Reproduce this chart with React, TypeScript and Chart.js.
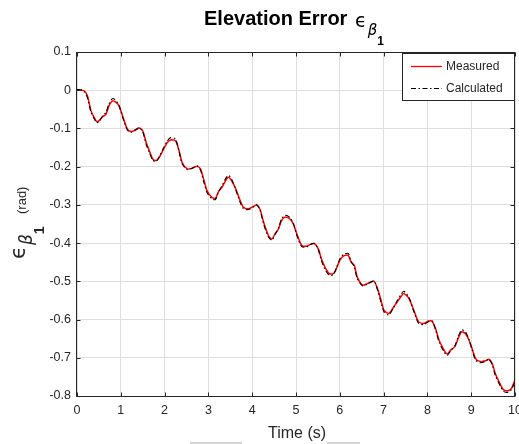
import { useEffect, useRef } from "react";
import { Chart, registerables } from "chart.js";

Chart.register(...registerables);

// Sample times (s)
const timeS = [
  0.0, 0.1, 0.17, 0.24, 0.32, 0.39, 0.45, 0.5, 0.58, 0.66, 0.73, 0.81, 0.89, 0.96,
  1.04, 1.15, 1.23, 1.34, 1.42, 1.5, 1.58, 1.65, 1.73, 1.8, 1.87, 1.95,
  2.06, 2.14, 2.25, 2.33, 2.4, 2.52, 2.63, 2.74, 2.82, 2.89, 2.97,
  3.08, 3.16, 3.23, 3.31, 3.39, 3.46, 3.53, 3.61, 3.71, 3.8, 3.92,
  4.03, 4.1, 4.18, 4.26, 4.37, 4.45, 4.52, 4.6, 4.67, 4.75, 4.86, 4.94,
  5.02, 5.13, 5.24, 5.36, 5.43, 5.51, 5.58, 5.66, 5.76, 5.85, 5.92,
  6.0, 6.08, 6.19, 6.26, 6.33, 6.4, 6.52, 6.63, 6.78, 6.86, 6.93,
  7.01, 7.12, 7.23, 7.31, 7.39, 7.46, 7.58, 7.69, 7.8, 7.92,
  8.03, 8.11, 8.19, 8.27, 8.38, 8.45, 8.53, 8.63, 8.7, 8.78, 8.87, 8.95,
  9.02, 9.1, 9.21, 9.33, 9.4, 9.48, 9.55, 9.67, 9.74, 9.84, 9.92, 10.0,
];

// Measured elevation error (rad)
const measured = [
  0.0, 0.0, -0.002, -0.015, -0.054, -0.071, -0.082, -0.08, -0.07, -0.063, -0.041, -0.028, -0.032, -0.041,
  -0.067, -0.102, -0.108, -0.104, -0.099, -0.106, -0.137, -0.158, -0.18, -0.184, -0.177, -0.16,
  -0.137, -0.13, -0.132, -0.158, -0.189, -0.206, -0.204, -0.199, -0.206, -0.232, -0.263,
  -0.28, -0.283, -0.265, -0.254, -0.237, -0.228, -0.237, -0.254, -0.284, -0.306, -0.31,
  -0.304, -0.3, -0.312, -0.345, -0.38, -0.389, -0.376, -0.363, -0.341, -0.332, -0.337, -0.35,
  -0.376, -0.406, -0.408, -0.402, -0.402, -0.415, -0.441, -0.463, -0.48, -0.48, -0.467,
  -0.445, -0.434, -0.432, -0.45, -0.458, -0.489, -0.51, -0.506, -0.5, -0.519, -0.545,
  -0.576, -0.584, -0.567, -0.554, -0.541, -0.532, -0.545, -0.576, -0.606, -0.61,
  -0.604, -0.605, -0.625, -0.655, -0.68, -0.69, -0.68, -0.67, -0.65, -0.632, -0.637, -0.654,
  -0.676, -0.702, -0.71, -0.708, -0.704, -0.715, -0.741, -0.771, -0.784, -0.786, -0.78, -0.758,
];

// Calculated elevation error (rad)
const calculated = [
  0.002, 0.001, -0.004, -0.02, -0.058, -0.074, -0.085, -0.082, -0.068, -0.058, -0.036, -0.022, -0.027, -0.04,
  -0.07, -0.104, -0.11, -0.103, -0.098, -0.108, -0.142, -0.162, -0.183, -0.187, -0.176, -0.157,
  -0.133, -0.124, -0.128, -0.16, -0.192, -0.208, -0.204, -0.198, -0.209, -0.238, -0.268,
  -0.284, -0.286, -0.266, -0.25, -0.232, -0.223, -0.233, -0.256, -0.289, -0.31, -0.312,
  -0.305, -0.299, -0.314, -0.35, -0.384, -0.392, -0.378, -0.36, -0.337, -0.327, -0.333, -0.349,
  -0.38, -0.409, -0.41, -0.402, -0.401, -0.418, -0.446, -0.468, -0.484, -0.483, -0.466,
  -0.442, -0.43, -0.427, -0.448, -0.462, -0.493, -0.512, -0.507, -0.499, -0.522, -0.55,
  -0.58, -0.588, -0.568, -0.551, -0.536, -0.526, -0.542, -0.579, -0.61, -0.613,
  -0.605, -0.604, -0.628, -0.66, -0.684, -0.694, -0.682, -0.668, -0.646, -0.627, -0.632, -0.652,
  -0.679, -0.706, -0.713, -0.709, -0.703, -0.718, -0.746, -0.775, -0.788, -0.79, -0.783, -0.762,
];

const xTickValues = [0, 1, 2, 3, 4, 5, 6, 7, 8, 9, 10];
const yTickValues = [0.1, 0, -0.1, -0.2, -0.3, -0.4, -0.5, -0.6, -0.7, -0.8];
const seriesNames = ["Measured", "Calculated"];

const SANS = '"Liberation Sans", Arial, Helvetica, sans-serif';
const GREEK = '"DejaVu Sans", "Liberation Sans", sans-serif';
const INK = "#262626";

const fmt = (v: number) => String(Number(v.toFixed(1)));
const crisp = (v: number) => Math.round(v) + 0.5;

const decorations = {
  id: "decorations",
  afterDraw(chart: any) {
    const { ctx, chartArea: a, scales } = chart;
    const L = crisp(a.left) - 1;
    const R = crisp(a.right) - 1;
    const T = crisp(a.top);
    const B = crisp(a.bottom);
    ctx.save();

    // axes box
    ctx.strokeStyle = INK;
    ctx.lineWidth = 1;
    ctx.strokeRect(L, T, R - L, B - T);

    // inward tick marks on all four sides
    ctx.beginPath();
    for (const v of xTickValues) {
      const px = crisp(scales.x.getPixelForValue(v));
      ctx.moveTo(px, B);
      ctx.lineTo(px, B - 4);
      ctx.moveTo(px, T);
      ctx.lineTo(px, T + 4);
    }
    for (const v of yTickValues) {
      const py = crisp(scales.y.getPixelForValue(v));
      ctx.moveTo(L, py);
      ctx.lineTo(L + 4, py);
      ctx.moveTo(R, py);
      ctx.lineTo(R - 4, py);
    }
    ctx.stroke();

    // title: Elevation Error ϵ_{β_1}
    ctx.fillStyle = "#000";
    ctx.textBaseline = "alphabetic";
    ctx.textAlign = "left";
    ctx.font = `bold 20px ${SANS}`;
    const main = "Elevation Error ";
    ctx.fillText(main, 204, 25);
    let tx = 204 + ctx.measureText(main).width + 2;
    ctx.font = `19px ${GREEK}`;
    ctx.fillText("ϵ", tx, 27);
    tx += ctx.measureText("ϵ").width + 1;
    ctx.font = `italic 15px ${GREEK}`;
    ctx.fillText("β", tx, 35);
    tx += ctx.measureText("β").width;
    ctx.font = `bold 12px ${SANS}`;
    ctx.fillText("1", tx, 45);

    // y-axis label: ϵ_{β_1} (rad)
    ctx.save();
    ctx.translate(25, 259);
    ctx.rotate(-Math.PI / 2);
    ctx.fillStyle = INK;
    ctx.font = `21px ${GREEK}`;
    ctx.fillText("ϵ", 0, 0);
    let yx = ctx.measureText("ϵ").width + 1;
    ctx.font = `italic 17px ${GREEK}`;
    ctx.fillText("β", yx, 7);
    yx += ctx.measureText("β").width;
    ctx.font = `bold 14px ${SANS}`;
    ctx.fillText("1", yx, 19);
    ctx.font = `13px ${SANS}`;
    ctx.fillText("(rad)", 45, 1);
    ctx.restore();

    // x-axis label
    ctx.fillStyle = INK;
    ctx.font = `16px ${SANS}`;
    ctx.textAlign = "center";
    ctx.fillText("Time (s)", 297, 438);

    // faint strokes below the axis label
    ctx.fillStyle = "#d4d4d4";
    ctx.fillRect(190, 442, 52, 2);
    ctx.fillRect(327, 442, 33, 2);

    // legend
    const lx = 402.5, ly = 53.5, lw = 112, lh = 47;
    ctx.fillStyle = "#fff";
    ctx.fillRect(lx, ly, lw, lh);
    ctx.strokeStyle = INK;
    ctx.lineWidth = 1;
    ctx.strokeRect(lx, ly, lw, lh);
    const rows = [
      { y: 66, color: "#ff0000", dash: [] as number[], width: 1.3 },
      { y: 88, color: "#000", dash: [5, 2.5, 1.5, 2.5], width: 1.1 },
    ];
    ctx.textAlign = "left";
    ctx.textBaseline = "middle";
    ctx.font = `12px ${SANS}`;
    rows.forEach((r, i) => {
      ctx.beginPath();
      ctx.setLineDash(r.dash);
      ctx.strokeStyle = r.color;
      ctx.lineWidth = r.width;
      ctx.moveTo(411, r.y + 0.5);
      ctx.lineTo(442, r.y + 0.5);
      ctx.stroke();
      ctx.setLineDash([]);
      ctx.fillStyle = INK;
      ctx.fillText(seriesNames[i], 446, r.y + 1);
    });

    ctx.restore();
  },
};

export default function App() {
  const canvasRef = useRef<HTMLCanvasElement | null>(null);

  useEffect(() => {
    const canvas = canvasRef.current;
    if (!canvas) return;
    const pts = (ys: number[]) => timeS.map((t, i) => ({ x: t, y: ys[i] }));

    const chart = new Chart(canvas, {
      type: "line",
      data: {
        datasets: [
          {
            label: seriesNames[0],
            data: pts(measured),
            borderColor: "#ff0000",
            borderWidth: 1.5,
            pointRadius: 0,
            tension: 0.25,
            order: 2,
          },
          {
            label: seriesNames[1],
            data: pts(calculated),
            borderColor: "#000000",
            borderWidth: 1.1,
            borderDash: [5, 2.5, 1.5, 2.5],
            pointRadius: 0,
            tension: 0.25,
            order: 1,
          },
        ],
      },
      options: {
        responsive: false,
        animation: false,
        devicePixelRatio: 1,
        layout: { padding: { top: 52, right: 4, left: 0, bottom: 0 } },
        plugins: {
          legend: { display: false },
          title: { display: false },
          tooltip: { enabled: false },
        },
        scales: {
          x: {
            type: "linear",
            min: 0,
            max: 10,
            afterBuildTicks: (s: any) => {
              s.ticks = xTickValues.map((v) => ({ value: v }));
            },
            afterFit: (s: any) => {
              s.height = 48;
              s.paddingLeft = 0;
              s.paddingRight = 0;
            },
            grid: { color: "#dedede", drawTicks: false, lineWidth: 1 },
            border: { display: false },
            ticks: {
              padding: 7,
              color: INK,
              font: { family: SANS, size: 12.5 },
              maxRotation: 0,
              autoSkip: false,
              callback: (v: any) => fmt(Number(v)),
            },
          },
          y: {
            type: "linear",
            min: -0.8,
            max: 0.1,
            afterBuildTicks: (s: any) => {
              s.ticks = yTickValues.map((v) => ({ value: v }));
            },
            afterFit: (s: any) => {
              s.width = 77;
              s.paddingTop = 0;
              s.paddingBottom = 0;
            },
            grid: { color: "#dedede", drawTicks: false, lineWidth: 1 },
            border: { display: false },
            ticks: {
              padding: 6,
              color: INK,
              font: { family: SANS, size: 12.5 },
              autoSkip: false,
              callback: (v: any) => fmt(Number(v)),
            },
          },
        },
      },
      plugins: [decorations],
    });

    return () => chart.destroy();
  }, []);

  return (
    <div style={{ position: "absolute", left: 0, top: 0, width: 519, height: 444, background: "#fff" }}>
      <canvas ref={canvasRef} width={519} height={444} style={{ display: "block" }} />
    </div>
  );
}
